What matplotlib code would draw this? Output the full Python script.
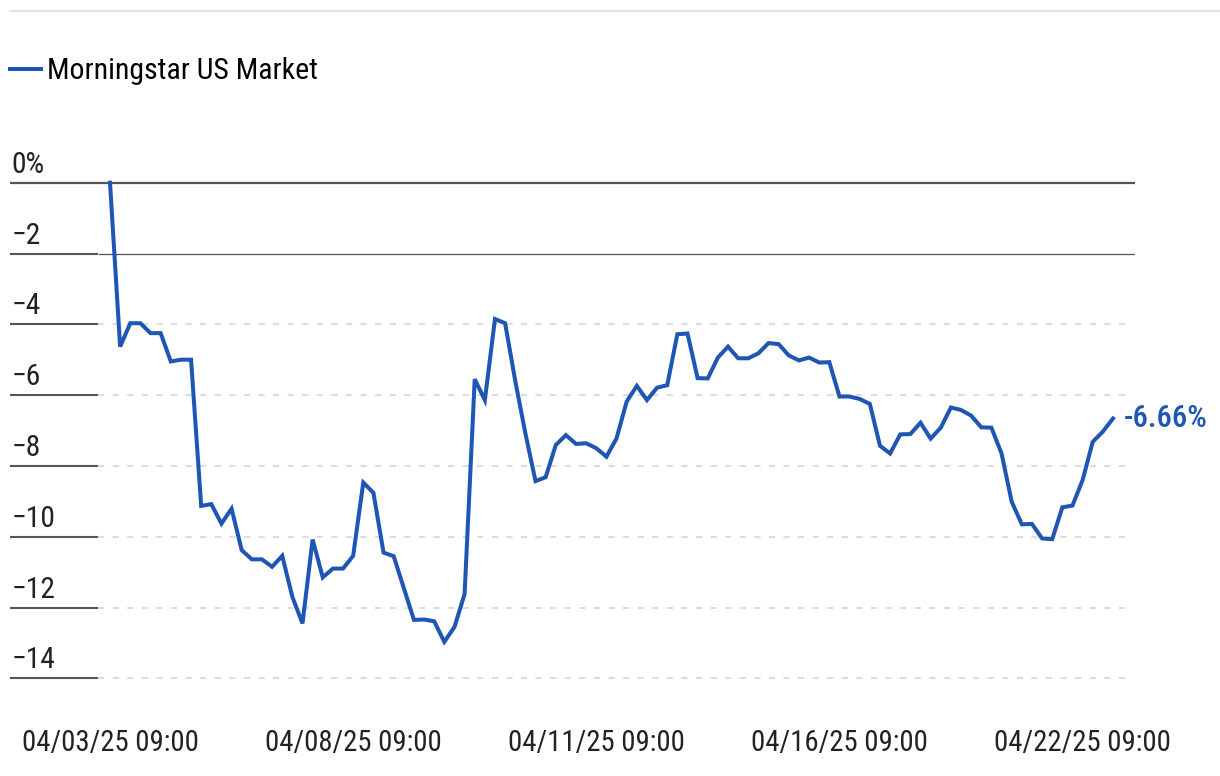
import matplotlib
matplotlib.use("Agg")
import matplotlib.pyplot as plt
from matplotlib.lines import Line2D
from matplotlib.transforms import blended_transform_factory
from matplotlib import font_manager as fm

# ---------------- data ----------------
series_name = "Morningstar US Market"
trading_days = ["04/03/25", "04/04/25", "04/07/25", "04/08/25", "04/09/25",
                "04/10/25", "04/11/25", "04/14/25", "04/15/25", "04/16/25",
                "04/17/25", "04/21/25", "04/22/25"]
hours = ["09:00", "10:00", "11:00", "12:00", "13:00", "14:00", "15:00", "16:00"]
returns = [
    0.00, -4.63, -3.97, -3.97, -4.25, -4.25, -5.05, -5.00, -5.00, -9.13,
    -9.08, -9.63, -9.21, -10.38, -10.64, -10.64, -10.85, -10.54, -11.70, -12.45,
    -10.08, -11.15, -10.90, -10.90, -10.54, -8.47, -8.76, -10.45, -10.55, -11.45,
    -12.35, -12.34, -12.39, -12.97, -12.55, -11.62, -5.55, -6.14, -3.85, -3.97,
    -5.60, -7.08, -8.43, -8.32, -7.41, -7.13, -7.38, -7.36, -7.50, -7.74,
    -7.22, -6.18, -5.74, -6.14, -5.79, -5.72, -4.28, -4.26, -5.52, -5.53,
    -4.94, -4.63, -4.96, -4.96, -4.82, -4.53, -4.56, -4.88, -5.02, -4.94,
    -5.08, -5.07, -6.04, -6.04, -6.11, -6.25, -7.43, -7.65, -7.11, -7.10,
    -6.78, -7.23, -6.92, -6.35, -6.42, -6.58, -6.91, -6.92, -7.65, -9.01,
    -9.65, -9.64, -10.05, -10.07, -9.17, -9.12, -8.40, -7.32, -7.03, -6.66,
]
timestamps = [f"{d} {h}" for d in trading_days for h in hours][:len(returns)]
tick_every = 24
y_ticks = [0, -2, -4, -6, -8, -10, -12, -14]
y_labels = ["0%", "\u22122", "\u22124", "\u22126", "\u22128", "\u221210", "\u221212", "\u221214"]
last_label = "-6.66%"

# ---------------- fonts ----------------
available = {f.name for f in fm.fontManager.ttflist}
condensed = None
for cand in ["Roboto Condensed", "Liberation Sans Narrow", "Open Sans Condensed",
             "Arial Narrow", "Noto Sans Display"]:
    if cand in available:
        condensed = cand
        break
if condensed:
    FONT = [condensed, "DejaVu Sans"]
    scale = 1.12
else:
    FONT = ["Roboto", "DejaVu Sans"]
    scale = 1.0
plt.rcParams["font.family"] = FONT

BLUE = "#1f56b3"
DARK = "#555555"
TEXT = "#222222"

W, H = 1220, 776
fig = plt.figure(figsize=(W / 100, H / 100), dpi=100)

ax_left, ax_right = 10, 1135
ax_top, ax_bot = 165, 696
ax = fig.add_axes([ax_left / W, 1 - ax_bot / H, (ax_right - ax_left) / W, (ax_bot - ax_top) / H])

n = len(returns)
x = list(range(n))
px_per_idx = (1113 - 110) / (n - 1)
ax.set_xlim(-(110 - ax_left) / px_per_idx, (n - 1) + (ax_right - 1113) / px_per_idx)
ax.set_ylim(-14.5, 0.5)

for s in ax.spines.values():
    s.set_visible(False)
ax.set_yticks([])

trans = blended_transform_factory(ax.transAxes, ax.transData)
stub_end = (98 - ax_left) / (ax_right - ax_left)
grid_end = (1133 - ax_left) / (ax_right - ax_left)

for v, lab in zip(y_ticks, y_labels):
    if v == 0:
        ax.plot([0, 1], [v, v], transform=trans, color=DARK, lw=1.6, zorder=1, solid_capstyle="butt")
    elif v == -2:
        ax.plot([0, stub_end], [v, v], transform=trans, color=DARK, lw=1.5, zorder=1, solid_capstyle="butt")
        ax.plot([stub_end, 1], [v, v], transform=trans, color=DARK, lw=0.9, zorder=1, solid_capstyle="butt")
    else:
        ax.plot([0, stub_end], [v, v], transform=trans, color=DARK, lw=1.5, zorder=1, solid_capstyle="butt")
        ax.plot([stub_end, grid_end], [v, v], transform=trans, color="#dddddd", lw=1.5,
                dashes=(3, 4), zorder=1)
    ax.annotate(lab, xy=(0, v), xycoords=trans, xytext=(1.5, 10), textcoords="offset pixels",
                ha="left", va="baseline", fontsize=19 * scale, color=TEXT, annotation_clip=False)

line, = ax.plot(x, returns, color=BLUE, lw=2.9, solid_joinstyle="miter", zorder=3, clip_on=False)

ax.annotate(last_label, xy=(x[-1], returns[-1]), xytext=(11, 0), textcoords="offset pixels",
            ha="left", va="center", fontsize=19.8 * scale, color=BLUE, fontweight="medium",
            annotation_clip=False)

ticks = list(range(0, n, tick_every))
ax.set_xticks(ticks)
ax.set_xticklabels([timestamps[i] for i in ticks], fontsize=18.5 * scale, color=TEXT)
ax.tick_params(axis="x", length=0, pad=24)

# legend
fig.legend(handles=[line], labels=[series_name], loc="center left",
           bbox_to_anchor=(ax_left / W, 1 - 71 / H), frameon=False,
           fontsize=19.2 * scale, handlelength=1.05, handletextpad=0.2,
           borderpad=0, borderaxespad=0)

# top rule
fig.add_artist(Line2D([10 / W, 1.0], [1 - 11 / H, 1 - 11 / H], color="#e3e3e3", lw=1.5))

fig.savefig("out.png", dpi=100)
